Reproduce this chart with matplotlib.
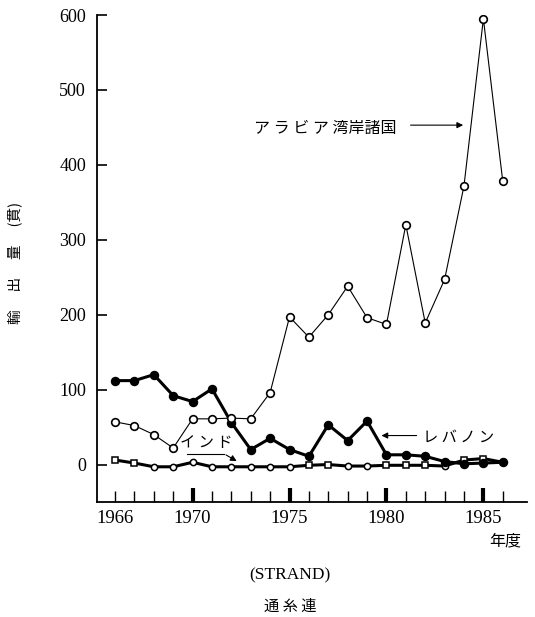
import matplotlib.pyplot as plt
import numpy as np

plt.rcParams['font.family'] = ['Liberation Serif', 'Noto Sans CJK JP', 'DejaVu Sans']

years = list(range(1966, 1987))

# アラビア湾岸諸国 (open circles, thin line)
arabia = [57, 52, 40, 22, 61, 61, 62, 61, 96, 197, 170, 200, 238, 196, 187,
          320, 189, 247, 372, 595, 378]
# レバノン (filled circles, thick line)
lebanon = [112, 112, 120, 92, 84, 101, 56, 20, 35, 20, 11, 53, 32, 58, 13,
           13, 11, 4, 1, 2, 3]
# インド (small open markers, thick line)
india = [6, 2, -3, -3, 3, -3, -3, -3, -3, -3, -1, 0, -2, -2, -1,
         -1, -1, -2, 6, 8, 3]
india_marks = ['s', 's', 'o', 'o', 'o', 'o', 'o', 'o', 'o', 'o', 's', 's', 'o', 'o', 's',
               's', 's', 'o', 's', 's', None]

yticks = [0, 100, 200, 300, 400, 500, 600]
xlabels = {1966: '1966', 1970: '1970', 1975: '1975', 1980: '1980', 1985: '1985'}
major_years = [1970, 1975, 1980, 1985]

fig = plt.figure(figsize=(5.35, 6.17), dpi=100)
ax = fig.add_axes([97/535, 1-502/617, 430/535, 487/617])

ax.plot(years, india, color='black', lw=2.2, zorder=2)
for x, y, m in zip(years, india, india_marks):
    if m:
        ax.plot(x, y, marker=m, ms=4.5, mfc='white', mec='black', mew=1.1, zorder=3)

ax.plot(years, lebanon, color='black', lw=2.2, marker='o', ms=5.8,
        mfc='black', mec='black', zorder=4)
ax.plot(years, arabia, color='black', lw=0.8, marker='o', ms=5.5,
        mfc='white', mec='black', mew=1.2, zorder=5)

# annotations
ax.text(1980.5, 449, 'ア ラ ビ ア 湾岸諸国', family='Noto Sans CJK JP', fontsize=11.5,
        ha='right', va='center')
ax.annotate('', xy=(1984.1, 453), xytext=(1981.1, 453),
            arrowprops=dict(arrowstyle='-|>', lw=0.8, color='black', mutation_scale=9))

ax.text(1981.9, 37, 'レ バ ノ ン', family='Noto Sans CJK JP', fontsize=11,
        ha='left', va='center')
ax.annotate('', xy=(1979.6, 38.7), xytext=(1981.7, 38.7),
            arrowprops=dict(arrowstyle='-|>', lw=0.8, color='black', mutation_scale=9))

ax.text(1969.35, 29, 'イ ン ド', family='Noto Sans CJK JP', fontsize=11,
        ha='left', va='center')
ax.plot([1969.7, 1971.6], [14.7, 14.7], color='black', lw=0.8)
ax.annotate('', xy=(1972.4, 2.7), xytext=(1971.6, 14.7),
            arrowprops=dict(arrowstyle='-|>', lw=0.8, color='black', mutation_scale=9))

ax.set_xlim(1965.07, 1987.25)
ax.set_ylim(-50, 600)

for s in ['top', 'right']:
    ax.spines[s].set_visible(False)
for s in ['left', 'bottom']:
    ax.spines[s].set_linewidth(1.3)

ax.set_yticks(yticks)
ax.set_yticklabels([str(v) for v in yticks], fontsize=13)
ax.tick_params(axis='y', direction='in', length=7, width=1.2, pad=8)

ax.set_xticks(years)
ax.set_xticklabels([xlabels.get(y, '') for y in years], fontsize=13.5)
ax.tick_params(axis='x', which='major', direction='in', length=8, width=1.0, pad=6)
ax.xaxis.remove_overlapping_locs = False
ax.set_xticks(major_years, minor=True)
ax.tick_params(axis='x', which='minor', direction='in', length=10, width=3)

ax.set_ylabel('輸　 出　 量　 (貫)', family='Noto Sans CJK JP', fontsize=10.5)
ax.yaxis.set_label_coords(-0.175, 0.49)

fig.text(505/535, 1-541/617, '年度', family='Noto Sans CJK JP', fontsize=11.5,
         ha='center', va='center')
fig.text(290/535, 1-575/617, '(STRAND)', fontsize=12.5, ha='center', va='center')
fig.text(290/535, 1-606/617, '通 糸 連', family='Noto Sans CJK JP', fontsize=11,
         ha='center', va='center')

fig.savefig('out.png', dpi=100)
